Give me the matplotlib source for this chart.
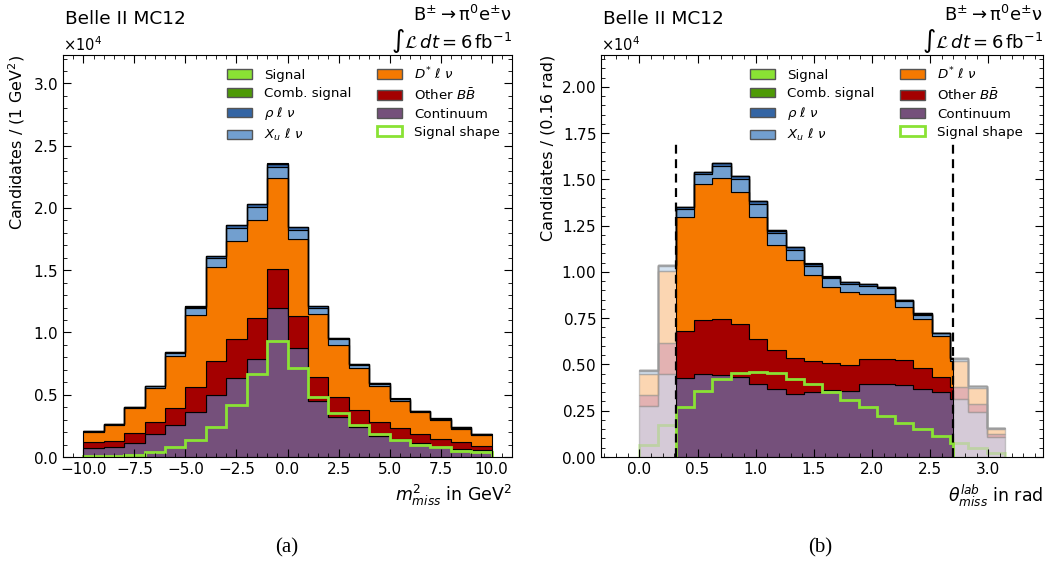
import numpy as np
import matplotlib.pyplot as plt
from matplotlib.patches import Patch
from matplotlib.colors import to_rgba
from matplotlib.ticker import AutoMinorLocator

# ---- (a) m_miss^2 distribution, 1 GeV^2 bins from -10 to 10 ----
mm2_edges = np.linspace(-10, 10, 21)
mm2_continuum = [700, 830, 1150, 1840, 2570, 3580, 4970, 6310, 7860, 11970,
                 8740, 4520, 3180, 2380, 1680, 1470, 1100, 830, 640, 530]
mm2_other_bb = [480, 450, 770, 990, 1390, 2060, 2750, 3130, 3310, 3130,
                2570, 1870, 1660, 1420, 1100, 830, 720, 640, 590, 350]
mm2_dstar = [820, 1300, 1980, 2720, 4140, 5800, 7540, 7930, 7890, 7300,
             6200, 5130, 4190, 3310, 2890, 2190, 1760, 1470, 1040, 860]
mm2_xu = [70, 70, 80, 130, 270, 520, 690, 1010, 990, 920,
          740, 470, 420, 290, 220, 160, 110, 120, 80, 100]
mm2_rho = [15, 15, 15, 30, 60, 120, 160, 240, 230, 220,
           180, 110, 95, 70, 55, 40, 25, 30, 25, 25]
mm2_comb = [1, 1, 2, 3, 4, 6, 8, 10, 12, 14, 11, 8, 6, 5, 4, 3, 2, 2, 1, 1]
mm2_signal = [0, 1, 2, 4, 7, 12, 20, 35, 55, 78, 60, 40, 30, 22, 15, 12, 8, 6, 4, 3]
mm2_shape = [60, 100, 200, 400, 770, 1380, 2400, 4150, 6660, 9330,
             7160, 4840, 3500, 2570, 1840, 1390, 1000, 770, 500, 400]

# ---- (b) theta_miss^lab distribution, 20 bins from 0 to pi ----
th_edges = np.linspace(0, np.pi, 21)
th_cut = (0.314, 2.70)
th_continuum = [2760, 4470, 4250, 4470, 4430, 4340, 3930, 3660, 3420, 3530,
                3620, 3580, 3950, 3930, 3890, 3690, 3530, 3120, 2410, 1060]
th_other_bb = [590, 1710, 2560, 2940, 3050, 2830, 2430, 2110, 1950, 1680,
               1440, 1410, 1350, 1390, 1340, 1100, 810, 650, 450, 180]
th_dstar = [1150, 3890, 6180, 7330, 7580, 7140, 6630, 5690, 5280, 4630,
            4150, 3910, 3510, 3490, 2890, 2690, 2200, 1430, 880, 260]
th_xu = [150, 240, 420, 530, 660, 700, 680, 630, 560, 490,
         440, 450, 420, 300, 290, 220, 140, 100, 85, 70]
th_rho = [40, 60, 100, 120, 160, 165, 160, 150, 130, 115,
          100, 105, 100, 65, 65, 55, 30, 25, 20, 15]
th_comb = [2, 3, 5, 6, 7, 7, 7, 6, 6, 5, 5, 4, 4, 3, 3, 2, 2, 1, 1, 1]
th_signal = [3, 8, 13, 17, 20, 22, 22, 21, 20, 18, 16, 14, 12, 10, 8, 7, 5, 4, 2, 1]
th_shape = [650, 1730, 2720, 3580, 4220, 4560, 4610, 4520, 4230, 3930,
            3500, 3080, 2680, 2230, 1850, 1500, 1150, 770, 500, 230]

labels = ["Continuum", "Other $B\\bar{B}$", "$D^{*}\\ \\ell\\ \\nu$", "$X_u\\ \\ell\\ \\nu$",
          "$\\rho\\ \\ell\\ \\nu$", "Comb. signal", "Signal"]
colors = ["#75507b", "#a40000", "#f57900", "#729fcf", "#3465a4", "#4e9a06", "#8ae234"]
shape_color = "#8ae234"

plt.rcParams['font.family'] = ['DejaVu Sans']
plt.rcParams['mathtext.fontset'] = 'dejavusans'


def draw_stack(ax, edges, layers, faded=False):
    bottom = np.zeros(len(edges) - 1)
    for vals, c in zip(layers, colors):
        top = bottom + np.asarray(vals, dtype=float)
        if faded:
            ax.stairs(top, edges, baseline=bottom, fill=True,
                      facecolor=to_rgba(c, 0.3), edgecolor=(0.6, 0.6, 0.6, 0.5), lw=1.0)
        else:
            ax.stairs(top, edges, baseline=bottom, fill=True,
                      facecolor=c, edgecolor="black", lw=0.8)
        bottom = top
    return bottom


def style_axes(ax):
    ax.tick_params(which='both', direction='in', top=True, right=True, labelsize=11)
    ax.tick_params(which='major', length=6)
    ax.tick_params(which='minor', length=3)
    ax.xaxis.set_minor_locator(AutoMinorLocator())
    ax.yaxis.set_minor_locator(AutoMinorLocator())
    ax.ticklabel_format(axis='y', style='sci', scilimits=(0, 0), useMathText=True)
    ax.yaxis.get_offset_text().set_fontsize(10.5)


def add_header(ax):
    ax.text(0.005, 1.09, "Belle II MC12", transform=ax.transAxes, fontsize=13.3,
            ha='left', va='center')
    ax.text(1.0, 1.1, r"$\mathrm{B^{\pm}\rightarrow\pi^{0}e^{\pm}\nu}$", transform=ax.transAxes,
            fontsize=13, ha='right', va='center')
    ax.text(1.0, 1.035, r"$\int\mathcal{L}\,dt = 6\,\mathrm{fb}^{-1}$", transform=ax.transAxes,
            fontsize=13, ha='right', va='center')


def add_legend(ax, pad):
    handles = [Patch(facecolor=colors[6], edgecolor='#555555', label=labels[6]),
               Patch(facecolor=colors[5], edgecolor='#555555', label=labels[5]),
               Patch(facecolor=colors[4], edgecolor='#555555', label=labels[4]),
               Patch(facecolor=colors[3], edgecolor='#555555', label=labels[3]),
               Patch(facecolor=colors[2], edgecolor='#555555', label=labels[2]),
               Patch(facecolor=colors[1], edgecolor='#555555', label=labels[1]),
               Patch(facecolor=colors[0], edgecolor='#555555', label=labels[0]),
               Patch(facecolor='white', edgecolor=shape_color, lw=2, label="Signal shape")]
    ax.legend(handles=handles, ncol=2, loc='upper right', frameon=False, fontsize=9.6,
              handlelength=1.9, handleheight=0.75, handletextpad=0.9, columnspacing=1.9,
              labelspacing=0.38, bbox_to_anchor=(1 - pad, 1.004))


fig = plt.figure(figsize=(10.5, 5.67), dpi=100)
ax1 = fig.add_axes([63 / 1050, 110 / 567, 449 / 1050, 402 / 567])
ax2 = fig.add_axes([601 / 1050, 110 / 567, 442 / 1050, 402 / 567])

# (a)
layers_a = [mm2_continuum, mm2_other_bb, mm2_dstar, mm2_xu, mm2_rho, mm2_comb, mm2_signal]
total_a = draw_stack(ax1, mm2_edges, layers_a)
ax1.stairs(mm2_shape, mm2_edges, color=shape_color, lw=2)
ax1.set_xlim(-11.0, 11.0)
ax1.set_ylim(0, total_a.max() * 1.366)
ax1.set_xlabel(r"$m^2_{miss}$ in GeV$^2$", loc='right', fontsize=12.5)
ax1.set_ylabel(r"Candidates / (1 GeV$^2$)", loc='top', fontsize=11.5)
style_axes(ax1)
add_header(ax1)
add_legend(ax1, 0.0)

# (b)
layers_b = [th_continuum, th_other_bb, th_dstar, th_xu, th_rho, th_comb, th_signal]
total_b = draw_stack(ax2, th_edges, layers_b, faded=True)
ax2.stairs(th_shape, th_edges, color=to_rgba(shape_color, 0.3), lw=2)

clipped = np.clip(th_edges, *th_cut)
keep = np.diff(clipped) > 0
idx = np.where(keep)[0]
edges_in = clipped[idx[0]:idx[-1] + 2]
layers_in = [np.asarray(l)[keep] for l in layers_b]
draw_stack(ax2, edges_in, layers_in)
ax2.stairs(np.asarray(th_shape)[keep], edges_in, color=shape_color, lw=2)
ax2.vlines(th_cut, 0, 17000, colors='black', linestyles=(0, (4, 2.5)), lw=1.6)

ax2.set_xlim(-0.33, 3.47)
ax2.set_ylim(0, total_b.max() * 1.366)
ax2.set_xlabel(r"$\theta^{lab}_{miss}$ in rad", loc='right', fontsize=12.5)
ax2.set_ylabel("Candidates / (0.16 rad)", loc='top', fontsize=11.5)
style_axes(ax2)
add_header(ax2)
add_legend(ax2, 0.018)

fig.text(287 / 1050, 1 - 548 / 567, "(a)", family='Liberation Serif', fontsize=15,
         ha='center', va='center')
fig.text(820 / 1050, 1 - 548 / 567, "(b)", family='Liberation Serif', fontsize=15,
         ha='center', va='center')

fig.savefig("out.png", dpi=100)
